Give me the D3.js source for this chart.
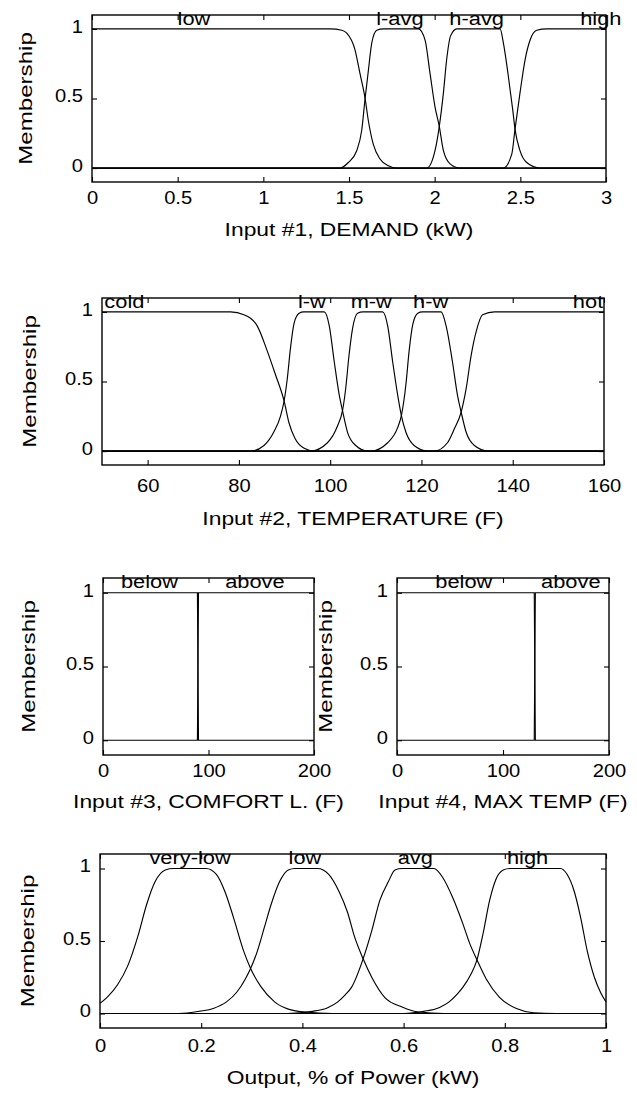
<!DOCTYPE html>
<html><head><meta charset="utf-8">
<script src="https://cdn.jsdelivr.net/npm/d3@7"></script>
<style>
body{margin:0;background:#fff}
svg{display:block}
</style>
</head><body>
<svg id="c" width="637" height="1093"></svg>
<script>
// ---------------- data ----------------
const memberTicks = [0, 0.5, 1];
const memberTickLabels = ["0", "0.5", "1"];

// Input #1 DEMAND
const demandTicks = [0, 0.5, 1, 1.5, 2, 2.5, 3];
const demandTickLabels = ["0", "0.5", "1", "1.5", "2", "2.5", "3"];
const demandNames = ["low", "l-avg", "h-avg", "high"];
const demandLabelX = [0.595, 1.797, 2.245, 2.97];
const demandLow = [[0,1],[1.39,1],[1.458,0.99],[1.487,0.97],[1.535,0.85],[1.564,0.68],[1.594,0.5],[1.613,0.34],[1.642,0.17],[1.681,0.065],[1.73,0.017],[1.779,0],[3,0]];
const demandLAvg = [[0,0],[1.448,0],[1.496,0.04],[1.545,0.125],[1.574,0.27],[1.594,0.5],[1.613,0.7],[1.633,0.9],[1.662,0.99],[1.701,1],[1.905,1],[1.944,0.92],[1.973,0.68],[2.002,0.44],[2.027,0.3],[2.051,0.125],[2.09,0.03],[2.148,0],[3,0]];
const demandHAvg = [[0,0],[1.954,0],[2.002,0.125],[2.027,0.3],[2.051,0.54],[2.07,0.78],[2.093,0.95],[2.129,1],[2.382,1],[2.401,0.9],[2.43,0.66],[2.456,0.415],[2.469,0.28],[2.498,0.125],[2.537,0.04],[2.615,0],[3,0]];
const demandHigh = [[0,0],[2.401,0],[2.45,0.1],[2.469,0.28],[2.498,0.54],[2.528,0.78],[2.557,0.92],[2.596,0.99],[2.654,1],[3,1]];

// Input #2 TEMPERATURE
const tempTicks = [60, 80, 100, 120, 140, 160];
const tempTickLabels = ["60", "80", "100", "120", "140", "160"];
const tempNames = ["cold", "l-w", "m-w", "h-w", "hot"];
const tempLabelX = [54.9, 96, 109, 122, 156.5];
const tempCold = [[50,1],[78.2,1],[81.1,0.98],[84,0.9],[86.2,0.72],[88,0.55],[89.9,0.36],[91,0.2],[92.3,0.09],[94.3,0.02],[96.5,0],[160,0]];
const tempLW = [[50,0],[82.6,0],[85.5,0.04],[87.7,0.14],[89.1,0.25],[89.9,0.36],[90.6,0.52],[91.3,0.74],[92.1,0.92],[93.2,0.99],[94.2,1],[98.7,1],[99.8,0.9],[100.9,0.64],[102,0.4],[102.7,0.29],[103.8,0.135],[105.6,0.04],[108.2,0],[160,0]];
const tempMW = [[50,0],[95.7,0],[99.4,0.06],[101.6,0.18],[102.7,0.29],[103.4,0.45],[104.1,0.68],[104.9,0.88],[106,0.99],[107.2,1],[111.5,1],[112.6,0.9],[113.7,0.64],[114.8,0.4],[115.6,0.255],[116.6,0.135],[118.4,0.04],[121.3,0],[160,0]];
const tempHW = [[50,0],[108.9,0],[112.6,0.06],[114.8,0.17],[115.6,0.255],[116.6,0.48],[117.3,0.72],[118.1,0.91],[119.2,0.99],[120.2,1],[124.3,1],[125.4,0.9],[126.8,0.64],[127.9,0.4],[128.7,0.28],[129.8,0.135],[131.6,0.04],[134.6,0],[160,0]];
const tempHot = [[50,0],[122.8,0],[125.7,0.06],[127.2,0.16],[128.7,0.28],[129.8,0.45],[130.9,0.69],[132,0.86],[133.4,0.98],[136,1],[160,1]];

// Input #3 COMFORT L. and Input #4 MAX TEMP
const stepTicks = [0, 100, 200];
const stepTickLabels = ["0", "100", "200"];
const stepNames = ["below", "above"];
const comfortLabelX = [44, 144];
const comfortBelow = [[0,1],[89.5,1],[90.5,0],[200,0]];
const comfortAbove = [[0,0],[89.5,0],[90.5,1],[200,1]];
const maxTempLabelX = [63, 164];
const maxTempBelow = [[0,1],[129.5,1],[130.5,0],[200,0]];
const maxTempAbove = [[0,0],[129.5,0],[130.5,1],[200,1]];

// Output, % of Power
const outTicks = [0, 0.2, 0.4, 0.6, 0.8, 1];
const outTickLabels = ["0", "0.2", "0.4", "0.6", "0.8", "1"];
const outNames = ["very-low", "low", "avg", "high"];
const outLabelX = [0.178, 0.405, 0.623, 0.845];
const outVeryLow = [[0,0.07],[0.015,0.115],[0.035,0.2],[0.055,0.33],[0.0755,0.54],[0.092,0.75],[0.109,0.91],[0.129,0.99],[0.145,1],[0.21,1],[0.23,0.96],[0.247,0.84],[0.264,0.66],[0.284,0.43],[0.2976,0.31],[0.318,0.185],[0.345,0.08],[0.372,0.03],[0.405,0.01],[0.46,0],[1,0]];
const outLow = [[0,0],[0.156,0],[0.197,0.016],[0.224,0.035],[0.25,0.08],[0.271,0.15],[0.2875,0.24],[0.2976,0.31],[0.311,0.43],[0.3245,0.59],[0.338,0.75],[0.355,0.91],[0.372,0.99],[0.385,1],[0.43,1],[0.452,0.96],[0.4726,0.84],[0.489,0.7],[0.503,0.53],[0.52,0.377],[0.537,0.25],[0.563,0.11],[0.597,0.045],[0.63,0.01],[0.68,0],[1,0]];
const outAvg = [[0,0],[0.37,0],[0.42,0.015],[0.45,0.04],[0.47,0.08],[0.485,0.13],[0.497,0.18],[0.52,0.377],[0.537,0.57],[0.553,0.78],[0.57,0.91],[0.583,0.99],[0.597,1],[0.66,1],[0.677,0.94],[0.697,0.8],[0.717,0.62],[0.731,0.48],[0.745,0.37],[0.763,0.24],[0.79,0.11],[0.823,0.034],[0.857,0.005],[0.9,0],[1,0]];
const outHigh = [[0,0],[0.6,0],[0.64,0.015],[0.67,0.04],[0.69,0.08],[0.705,0.13],[0.717,0.18],[0.733,0.27],[0.745,0.37],[0.757,0.55],[0.77,0.78],[0.783,0.93],[0.797,0.99],[0.81,1],[0.91,1],[0.923,0.96],[0.937,0.845],[0.95,0.66],[0.963,0.43],[0.977,0.25],[0.99,0.14],[1,0.08]];

// ---------------- drawing ----------------
const FONT = '"Liberation Sans", Arial, Helvetica, sans-serif';
const svg = d3.select("#c");

function panel(cfg) {
  const x = d3.scaleLinear().domain(cfg.domain).range([cfg.x0, cfg.x1]);
  const y = d3.scaleLinear().domain([-0.1, 1.1]).range([cfg.bottom, cfg.top]);
  const g = svg.append("g");
  const line = d3.line().x(d => x(d[0])).y(d => y(d[1])).curve(cfg.curve);

  cfg.mfs.forEach(mf => {
    g.append("path").attr("d", line(mf)).attr("fill", "none")
      .attr("stroke", "#000").attr("stroke-width", 1.15);
  });

  g.append("rect").attr("x", cfg.x0).attr("y", cfg.top)
    .attr("width", cfg.x1 - cfg.x0).attr("height", cfg.bottom - cfg.top)
    .attr("fill", "none").attr("stroke", "#000").attr("stroke-width", 1.4);

  function styleAxis(a) {
    a.select(".domain").remove();
    a.attr("font-family", FONT).attr("font-size", 18);
    a.selectAll(".tick line").attr("stroke", "#000").attr("stroke-width", 1.1);
    a.selectAll(".tick text").attr("fill", "#000");
  }

  const ab = g.append("g").attr("transform", `translate(0,${cfg.bottom})`)
    .call(d3.axisBottom(x).tickValues(cfg.ticks).tickFormat((d, i) => cfg.tickLabels[i])
      .tickSizeInner(-5).tickSizeOuter(0).tickPadding(cfg.tickPad));
  styleAxis(ab);
  ab.selectAll(".tick text").attr("transform", "scale(1.12,1)");

  const at = g.append("g").attr("transform", `translate(0,${cfg.top})`)
    .call(d3.axisTop(x).tickValues(cfg.ticks).tickFormat("").tickSizeInner(-5).tickSizeOuter(0));
  styleAxis(at);

  const al = g.append("g").attr("transform", `translate(${cfg.x0},0)`)
    .call(d3.axisLeft(y).tickValues(memberTicks).tickFormat((d, i) => memberTickLabels[i])
      .tickSizeInner(-5).tickSizeOuter(0).tickPadding(8));
  styleAxis(al);
  al.selectAll(".tick text").attr("dy", "0.18em").attr("transform", "scale(1.12,1)");

  const ar = g.append("g").attr("transform", `translate(${cfg.x1},0)`)
    .call(d3.axisRight(y).tickValues(memberTicks).tickFormat("").tickSizeInner(-5).tickSizeOuter(0));
  styleAxis(ar);

  // MF names
  cfg.names.forEach((n, i) => {
    g.append("g").attr("transform", `translate(${x(cfg.labelX[i])},${cfg.top + 10})`)
      .append("text").attr("text-anchor", "middle").attr("font-family", FONT)
      .attr("font-size", 19).attr("transform", "scale(1.15,1)").text(n);
  });

  // x label
  g.append("g").attr("transform", `translate(${(cfg.x0 + cfg.x1) / 2},${cfg.bottom + cfg.xLabelOff})`)
    .append("text").attr("text-anchor", "middle").attr("font-family", FONT)
    .attr("font-size", 18).attr("transform", "scale(1.27,1)").text(cfg.xLabel);

  // y label
  g.append("g").attr("transform", `translate(${cfg.yLabelX},${(cfg.top + cfg.bottom) / 2}) rotate(-90)`)
    .append("text").attr("text-anchor", "middle").attr("dy", "0.3em").attr("font-family", FONT)
    .attr("font-size", 19).attr("transform", "scale(1.27,1)").text("Membership");
}

panel({x0: 92, x1: 606, top: 15, bottom: 182, domain: [0, 3], curve: d3.curveMonotoneX,
  mfs: [demandLow, demandLAvg, demandHAvg, demandHigh], names: demandNames, labelX: demandLabelX,
  ticks: demandTicks, tickLabels: demandTickLabels, tickPad: 9, xLabelOff: 54,
  xLabel: "Input #1, DEMAND (kW)", yLabelX: 26});

panel({x0: 102, x1: 604, top: 298, bottom: 465, domain: [50, 160], curve: d3.curveMonotoneX,
  mfs: [tempCold, tempLW, tempMW, tempHW, tempHot], names: tempNames, labelX: tempLabelX,
  ticks: tempTicks, tickLabels: tempTickLabels, tickPad: 14, xLabelOff: 60,
  xLabel: "Input #2, TEMPERATURE (F)", yLabelX: 30});

panel({x0: 103, x1: 314, top: 578, bottom: 755, domain: [0, 200], curve: d3.curveLinear,
  mfs: [comfortBelow, comfortAbove], names: stepNames, labelX: comfortLabelX,
  ticks: stepTicks, tickLabels: stepTickLabels, tickPad: 9, xLabelOff: 53,
  xLabel: "Input #3, COMFORT L. (F)", yLabelX: 29});

panel({x0: 397, x1: 609, top: 578, bottom: 755, domain: [0, 200], curve: d3.curveLinear,
  mfs: [maxTempBelow, maxTempAbove], names: stepNames, labelX: maxTempLabelX,
  ticks: stepTicks, tickLabels: stepTickLabels, tickPad: 9, xLabelOff: 53,
  xLabel: "Input #4, MAX TEMP (F)", yLabelX: 326});

panel({x0: 100, x1: 606, top: 854, bottom: 1028, domain: [0, 1], curve: d3.curveMonotoneX,
  mfs: [outVeryLow, outLow, outAvg, outHigh], names: outNames, labelX: outLabelX,
  ticks: outTicks, tickLabels: outTickLabels, tickPad: 11, xLabelOff: 56,
  xLabel: "Output, % of Power (kW)", yLabelX: 28});
</script>
</body></html>
